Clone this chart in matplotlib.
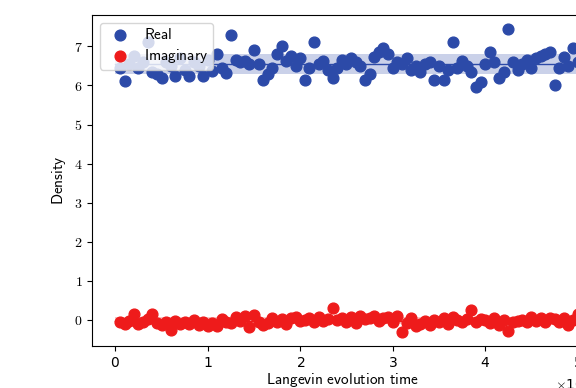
import numpy as np
import matplotlib
matplotlib.use("Agg")
import matplotlib.pyplot as plt

plt.rcParams['mathtext.fontset'] = 'cm'
plt.rcParams['font.size'] = 10

# Langevin time (in units of 1e4 steps)
t_steps = np.arange(1, 101) * 0.05e4

density_real = [
    6.45, 6.12, 6.55, 6.75, 6.45, 6.60, 7.10, 6.35, 6.30, 6.20,
    6.60, 6.50, 6.25, 6.70, 6.40, 6.25, 6.60, 6.50, 6.25, 6.65,
    6.38, 6.80, 6.45, 6.32, 7.30, 6.65, 6.60, 6.62, 6.55, 6.90,
    6.55, 6.15, 6.30, 6.45, 6.80, 7.00, 6.62, 6.75, 6.50, 6.70,
    6.15, 6.45, 7.10, 6.55, 6.62, 6.40, 6.20, 6.45, 6.65, 6.55,
    6.70, 6.60, 6.50, 6.15, 6.30, 6.72, 6.85, 6.95, 6.80, 6.45,
    6.60, 6.55, 6.70, 6.40, 6.50, 6.35, 6.55, 6.60, 6.15, 6.50,
    6.15, 6.40, 7.10, 6.45, 6.62, 6.50, 6.35, 5.95, 6.10, 6.55,
    6.85, 6.60, 6.20, 6.35, 7.45, 6.60, 6.40, 6.55, 6.65, 6.45,
    6.70, 6.75, 6.80, 6.85, 6.00, 6.45, 6.72, 6.50, 6.95, 6.60,
]

density_imag = [
    -0.05, -0.10, -0.02, 0.15, -0.10, -0.05, 0.02, 0.15, -0.08, -0.12,
    -0.05, -0.26, -0.02, -0.10, -0.05, -0.10, 0.00, -0.12, -0.06, -0.15,
    -0.08, -0.15, 0.02, -0.05, -0.08, 0.08, -0.03, 0.10, -0.18, 0.12,
    -0.05, -0.12, -0.08, 0.05, -0.05, 0.02, -0.10, 0.05, 0.08, -0.02,
    0.00, 0.05, -0.06, 0.08, -0.02, 0.03, 0.30, 0.00, 0.05, -0.05,
    0.08, -0.08, 0.10, 0.02, 0.05, 0.10, -0.02, 0.05, 0.08, -0.05,
    0.10, -0.30, -0.08, 0.05, -0.15, -0.10, -0.02, -0.12, 0.00, -0.05,
    0.05, -0.10, 0.08, 0.00, -0.05, 0.02, 0.25, -0.05, 0.02, 0.00,
    -0.08, 0.05, -0.12, 0.00, -0.28, -0.05, -0.02, 0.00, -0.05, 0.08,
    -0.03, 0.05, -0.05, 0.05, 0.02, -0.05, 0.05, -0.12, 0.00, 0.15,
]

blue = '#2c4aa8'
red = '#ee1b1b'

fig = plt.figure(figsize=(5.76, 3.88), dpi=100)
ax = fig.add_axes([0.16, 0.108, 0.867, 0.853])

span = [0, t_steps[-1]]
for vals, c, lab in [(density_real, blue, r'$\mathsf{Real}$'),
                     (density_imag, red, r'$\mathsf{Imaginary}$')]:
    vals = np.asarray(vals)
    m, s = vals.mean(), vals.std()
    ax.fill_between(span, m - s, m + s, color=c, alpha=0.25, lw=0, zorder=1)
    ax.plot(span, [m, m], color=c, lw=1, zorder=2)
    ax.scatter(t_steps, vals, s=60, color=c, zorder=3, label=lab)

ax.set_xlim(-0.25e4, 5.15e4)
ax.set_ylim(-0.67, 7.8)
ax.set_xticks(np.arange(0, 6) * 1e4)
ax.set_yticks(range(8))
ax.ticklabel_format(axis='x', style='sci', scilimits=(0, 0), useMathText=True)
ax.yaxis.set_major_formatter(matplotlib.ticker.FuncFormatter(lambda v, p: r'$%d$' % v))

ax.set_xlabel(r'$\mathsf{Langevin\ evolution\ time}$', fontsize=11, labelpad=1)
ax.set_ylabel(r'$\mathsf{Density}$', fontsize=11)

ax.legend(loc='upper left', fontsize=11, framealpha=0.8, handletextpad=0.6,
          borderpad=0.3, labelspacing=0.3, borderaxespad=0.5)

fig.savefig('out.png', dpi=100)
